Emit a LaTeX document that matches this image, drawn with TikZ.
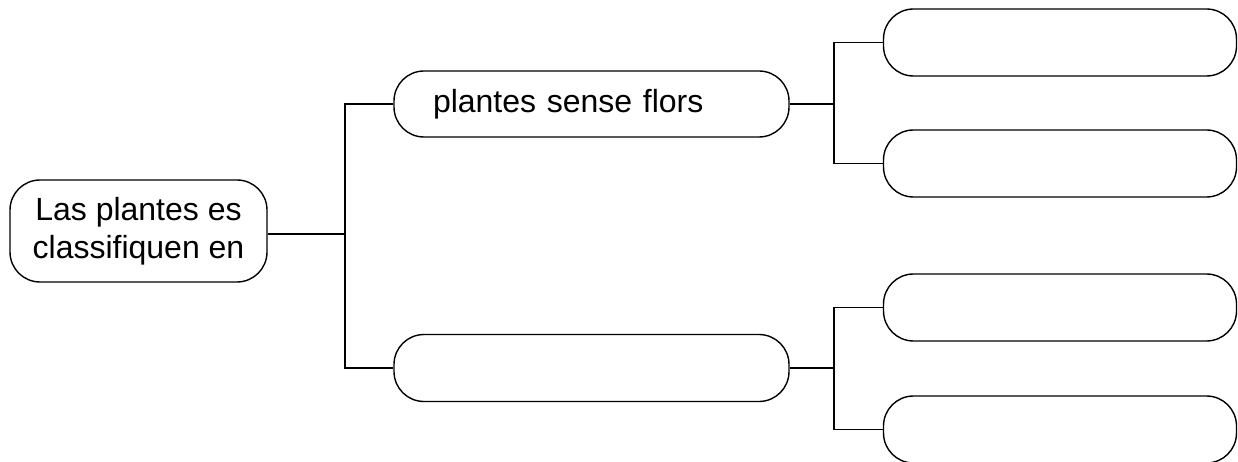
\documentclass[tikz,border=0pt]{standalone}
\usepackage{fontspec}
\setmainfont{Liberation Sans}
\begin{document}
\begin{tikzpicture}[x=1pt,y=-1pt,
  box/.style={draw=black, line width=1.4pt, rounded corners=30pt, rectangle, inner sep=0pt,
    font=\fontsize{32}{38}\selectfont},
  link/.style={draw=black, line width=1.4pt}]
\useasboundingbox (0,0) rectangle (1238,462);
\node[box, minimum width=257pt, minimum height=102pt, align=center] (L) at (138.5,231) {Las plantes es\\classifiquen en};
\node[box, minimum width=395pt, minimum height=66pt, text width=317pt, inner xsep=39pt, align=left] (M1) at (591.5,104) {plantes sense flors};
\node[box, minimum width=395pt, minimum height=67pt] (M2) at (591.5,368) {};
\node[box, minimum width=353pt, minimum height=67pt] (R1) at (1060,42.5) {};
\node[box, minimum width=353pt, minimum height=67pt] (R2) at (1060,163.5) {};
\node[box, minimum width=353pt, minimum height=67pt] (R3) at (1060,307.5) {};
\node[box, minimum width=353pt, minimum height=67pt] (R4) at (1060,429.5) {};
\coordinate (j1) at (345,234);
\coordinate (j2) at (834,104);
\coordinate (j3) at (834,368);
\draw[link] ([yshift=-3pt]L.east) -- (j1);
\draw[link] (M1.west) -| (j1) |- (M2.west);
\draw[link] (M1.east) -- (j2);
\draw[link] (R1.west) -| (j2) |- (R2.west);
\draw[link] (M2.east) -- (j3);
\draw[link] (R3.west) -| (j3) |- (R4.west);
\end{tikzpicture}
\end{document}
